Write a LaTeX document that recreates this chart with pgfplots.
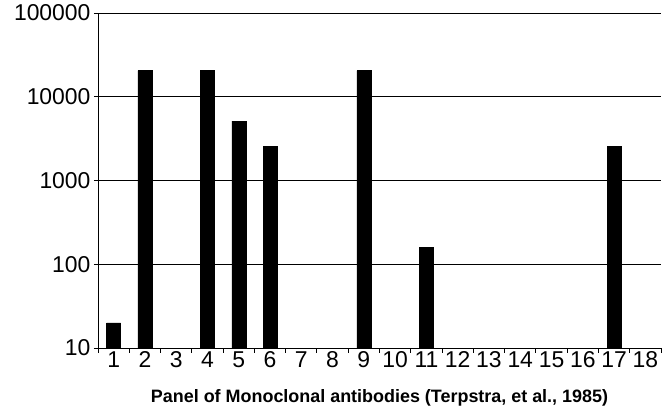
\documentclass[border=0pt]{standalone}
\usepackage{fontspec}
\setmainfont{Liberation Sans}
\usepackage{pgfplots}
\pgfplotsset{compat=1.18}

\begin{document}
\begin{tikzpicture}
\begin{axis}[
    scale only axis,
    width=563bp, height=335bp,
    ymode=log,
    ymin=10, ymax=100000,
    xmin=0.5, xmax=18.5,
    axis x line*=bottom,
    axis y line*=left,
    axis line style={black, line width=0.9bp},
    ytick={10,100,1000,10000,100000},
    yticklabels={10,100,1000,10000,100000},
    yminorticks=false,
    xtick={1,...,18},
    major x tick style={draw=none},
    minor xtick={0.5,1.5,...,18.5},
    minor tick length=5bp,
    major tick length=4bp,
    tick align=outside,
    tick style={black, line width=0.9bp},
    ymajorgrids,
    grid style={black, line width=0.9bp},
    tick label style={font=\fontsize{23}{26}\selectfont},
    /pgf/number format/assume math mode=true,
    yticklabel style={xshift=0bp},
    xticklabel style={yshift=4bp},
    xlabel={Panel of Monoclonal antibodies (Terpstra, et al., 1985)},
    xlabel style={font=\fontsize{18}{20}\selectfont\bfseries, yshift=-15bp},
    ybar, bar width=14bp,
]
\addplot[fill=black, draw=black] coordinates {
    (1,20) (2,20480) (4,20480) (5,5120) (6,2560) (9,20480) (11,160) (17,2560)
};
\end{axis}
\path (current axis.south west) ++(-98bp,-62bp) rectangle ++(670bp,410bp);
\end{tikzpicture}
\end{document}
